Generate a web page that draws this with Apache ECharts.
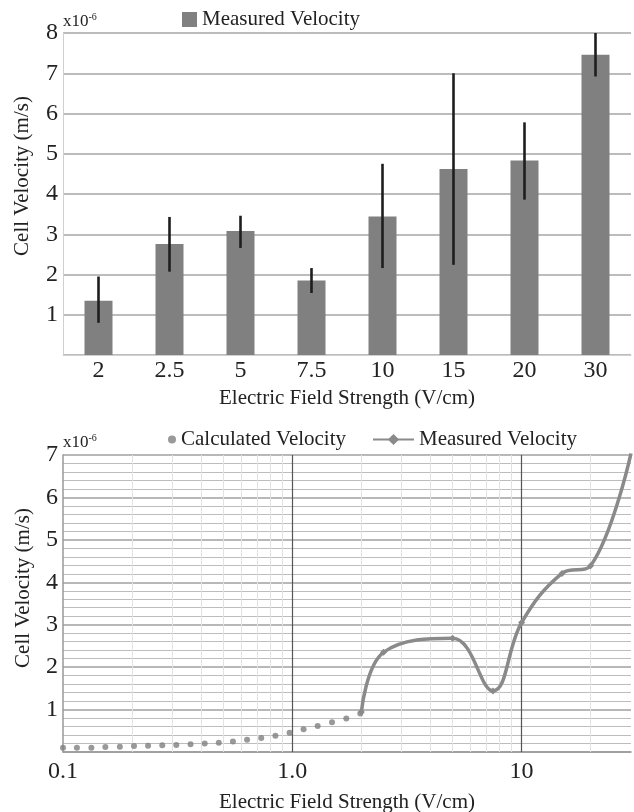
<!DOCTYPE html>
<html>
<head>
<meta charset="utf-8">
<script src="https://cdn.jsdelivr.net/npm/echarts@6/dist/echarts.min.js"></script>
<style>html,body{margin:0;padding:0;background:#fff;}#c{width:634px;height:812px;}</style>
</head>
<body>
<div id="c"></div>
<script>
// ---- Top chart data ----
const barCats = ['2', '2.5', '5', '7.5', '10', '15', '20', '30'];
const barVals = [1.35, 2.76, 3.08, 1.85, 3.44, 4.62, 4.83, 7.46];
const errLow  = [0.80, 2.07, 2.66, 1.54, 2.16, 2.24, 3.86, 6.92];
const errHigh = [1.95, 3.43, 3.46, 2.16, 4.75, 7.00, 5.78, 8.00];
const topYTicks = [1, 2, 3, 4, 5, 6, 7, 8];

// ---- Bottom chart data ----
const calcE = [0.1, 0.115, 0.133, 0.153, 0.177, 0.204, 0.235, 0.271, 0.312, 0.36, 0.415,
               0.478, 0.551, 0.635, 0.732, 0.844, 0.973, 1.12, 1.29, 1.49, 1.72, 1.98];
const calcV = [0.10, 0.10, 0.10, 0.12, 0.125, 0.14, 0.15, 0.16, 0.165, 0.18, 0.20,
               0.22, 0.25, 0.29, 0.33, 0.385, 0.455, 0.535, 0.61, 0.70, 0.79, 0.91];
const measE = [2, 2.5, 5, 7.5, 10, 15, 20, 30];
const measV = [0.94, 2.35, 2.68, 1.44, 3.05, 4.21, 4.39, 7.04];
const logMajorLines = [1, 10];
const logMinorLines = [0.2, 0.3, 0.4, 0.5, 0.6, 0.7, 0.8, 0.9, 2, 3, 4, 5, 6, 7, 8, 9, 20];
const bottomXLabels = {'0.1': '0.1', '1': '1.0', '10': '10'};

const FONT = '"Liberation Serif", "Times New Roman", serif';
const TXT = '#222';

const chart = echarts.init(document.getElementById('c'), null, {renderer: 'canvas'});

function xLabelFmt(v) {
  for (const k in bottomXLabels) {
    if (Math.abs(v - Number(k)) < 1e-6 * Math.max(1, Number(k))) return bottomXLabels[k];
  }
  return '';
}

const option = {
  backgroundColor: '#fff',
  animation: false,
  textStyle: {fontFamily: FONT},
  grid: [
    {left: 63, top: 33, width: 568, height: 322, containLabel: false},
    {left: 63, top: 455, width: 568, height: 297, containLabel: false}
  ],
  xAxis: [
    {
      gridIndex: 0, type: 'category', data: barCats,
      axisLine: {show: true, lineStyle: {color: '#d0d0d0', width: 1}},
      axisTick: {show: false},
      axisLabel: {fontFamily: FONT, fontSize: 24, color: TXT, margin: 4},
      splitLine: {show: false}
    },
    {
      gridIndex: 1, type: 'log', logBase: 10, min: 0.1, max: 30,
      axisLine: {show: true, lineStyle: {color: '#999', width: 1.5}},
      axisTick: {show: false},
      axisLabel: {fontFamily: FONT, fontSize: 24, color: TXT, margin: 8, formatter: xLabelFmt,
                  showMinLabel: true, showMaxLabel: true},
      splitLine: {show: false}
    }
  ],
  yAxis: [
    {
      gridIndex: 0, type: 'value', min: 0, max: 8, interval: 1,
      axisLine: {show: true, lineStyle: {color: '#d0d0d0', width: 1}},
      axisTick: {show: false},
      axisLabel: {fontFamily: FONT, fontSize: 24, color: TXT, margin: 5,
                  formatter: v => (topYTicks.indexOf(v) >= 0 ? String(v) : '')},
      splitLine: {show: true, lineStyle: {color: '#a6a6a6', width: 1.6}}
    },
    {
      gridIndex: 1, type: 'value', min: 0, max: 7, interval: 1,
      axisLine: {show: true, lineStyle: {color: '#999', width: 1.5}},
      axisTick: {show: false},
      axisLabel: {fontFamily: FONT, fontSize: 24, color: TXT, margin: 5,
                  formatter: v => (v === 0 ? '' : String(v))},
      splitLine: {show: true, lineStyle: {color: '#a0a0a0', width: 1.5}},
      minorTick: {show: false, splitNumber: 5},
      minorSplitLine: {show: true, lineStyle: {color: '#bdbdbd', width: 1.2}}
    }
  ],
  legend: [
    {
      data: ['Measured Velocity (bars)'], left: 182, top: 9, padding: 0,
      icon: 'rect', itemWidth: 15, itemHeight: 15, itemGap: 5,
      formatter: () => 'Measured Velocity',
      textStyle: {fontFamily: FONT, fontSize: 21, color: TXT, padding: [0, 0, 0, 0]}
    },
    {
      data: ['Calculated Velocity'], left: 168, top: 429, padding: 0,
      icon: 'circle', itemWidth: 8, itemHeight: 8,
      textStyle: {fontFamily: FONT, fontSize: 21, color: TXT}
    },
    {
      data: ['Measured Velocity (line)'], left: 372, top: 429, padding: 0,
      itemWidth: 41, itemHeight: 14,
      formatter: () => 'Measured Velocity',
      textStyle: {fontFamily: FONT, fontSize: 21, color: TXT}
    }
  ],
  graphic: [
    {type: 'text', left: 63, top: 12, style: {
      text: '{b|x10}{s|-6}', fontFamily: FONT,
      rich: {b: {fontSize: 17, fontFamily: FONT, fill: TXT, verticalAlign: 'bottom'},
             s: {fontSize: 10, fontFamily: FONT, fill: TXT, verticalAlign: 'top', padding: [0, 0, 8, 0]}}
    }},
    {type: 'text', left: 63, top: 433, style: {
      text: '{b|x10}{s|-6}', fontFamily: FONT,
      rich: {b: {fontSize: 17, fontFamily: FONT, fill: TXT, verticalAlign: 'bottom'},
             s: {fontSize: 10, fontFamily: FONT, fill: TXT, verticalAlign: 'top', padding: [0, 0, 8, 0]}}
    }},
    {type: 'text', x: 22, y: 176, rotation: Math.PI / 2, style: {
      text: 'Cell Velocity (m/s)', fontFamily: FONT, fontSize: 21, fill: TXT,
      align: 'center', verticalAlign: 'middle'}},
    {type: 'text', x: 23, y: 588, rotation: Math.PI / 2, style: {
      text: 'Cell Velocity (m/s)', fontFamily: FONT, fontSize: 21, fill: TXT,
      align: 'center', verticalAlign: 'middle'}},
    {type: 'text', x: 347, y: 398, style: {
      text: 'Electric Field Strength (V/cm)', fontFamily: FONT, fontSize: 21, fill: TXT,
      align: 'center', verticalAlign: 'middle'}},
    {type: 'text', x: 347, y: 802, style: {
      text: 'Electric Field Strength (V/cm)', fontFamily: FONT, fontSize: 21, fill: TXT,
      align: 'center', verticalAlign: 'middle'}}
  ],
  series: [
    {
      name: 'Measured Velocity (bars)', type: 'bar', xAxisIndex: 0, yAxisIndex: 0,
      data: barVals, barWidth: 28, itemStyle: {color: '#808080'}
    },
    {
      name: 'errors', type: 'custom', xAxisIndex: 0, yAxisIndex: 0,
      data: barCats.map((c, i) => [i, errLow[i], errHigh[i]]),
      encode: {x: 0, y: [1, 2]},
      renderItem: function (params, api) {
        const p0 = api.coord([api.value(0), api.value(1)]);
        const p1 = api.coord([api.value(0), api.value(2)]);
        return {type: 'line', shape: {x1: p0[0], y1: p0[1], x2: p1[0], y2: p1[1]},
                style: {stroke: '#1e1e1e', lineWidth: 2.6}};
      },
      z: 5
    },
    {
      name: 'Calculated Velocity', type: 'scatter', xAxisIndex: 1, yAxisIndex: 1,
      data: calcE.map((e, i) => [e, calcV[i]]),
      symbol: 'circle', symbolSize: 6, itemStyle: {color: '#7f7f7f'}, z: 4,
      markLine: {
        silent: true, symbol: 'none', label: {show: false},
        data: logMinorLines.map(v => ({xAxis: v, lineStyle: {color: '#e2e2e2', width: 1, type: 'solid'}}))
          .concat(logMajorLines.map(v => ({xAxis: v, lineStyle: {color: '#555', width: 1.2, type: 'solid'}}))),
        z: 1
      }
    },
    {
      name: 'Measured Velocity (line)', type: 'line', xAxisIndex: 1, yAxisIndex: 1,
      data: measE.map((e, i) => [e, measV[i]]),
      smooth: 0.4, symbol: 'diamond', symbolSize: 7, showSymbol: true,
      lineStyle: {color: '#8a8a8a', width: 3.5},
      itemStyle: {color: '#8a8a8a'}, z: 5
    }
  ]
};
chart.setOption(option);
</script>
</body>
</html>
